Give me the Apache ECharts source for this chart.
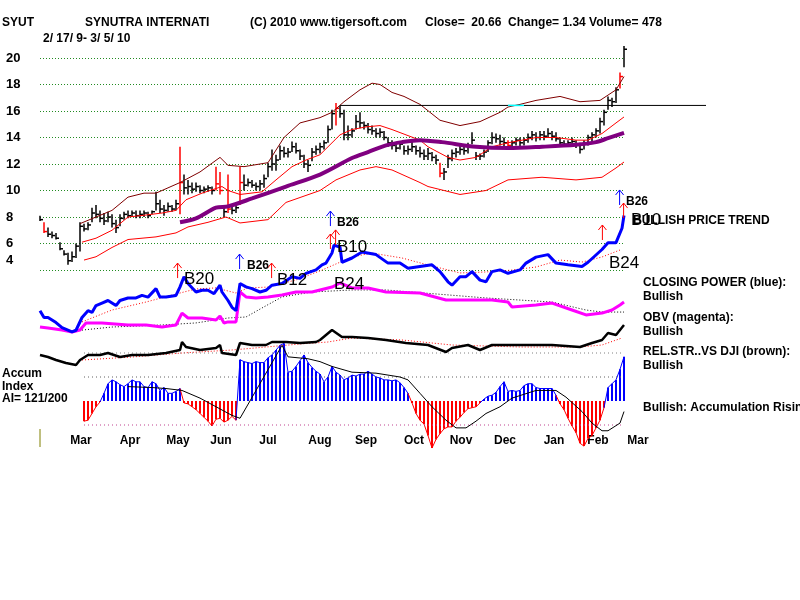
<!DOCTYPE html>
<html>
<head>
<meta charset="utf-8">
<script src="https://cdn.jsdelivr.net/npm/echarts@6/dist/echarts.min.js"></script>
<style>
html, body { margin: 0; background: #fff; }
#main { width: 800px; height: 600px; }
</style>
</head>
<body>
<div id="main"></div>
<script>
// SYUT 2/17/09 - 3/5/10, one bar every ~2 trading days (x = bar number)
const barHigh = [8.1,7.6,7.2,6.9,6.8,6.1,5.5,5.3,5.4,6.0,
  7.6,7.5,7.6,8.7,8.9,8.5,8.3,8.4,8.2,7.8,
  8.2,8.4,8.5,8.5,8.5,8.5,8.5,8.4,8.5,9.9,
  9.3,8.9,9.1,8.9,9.3,13.3,11.2,10.8,10.6,10.6,
  10.4,10.3,10.4,10.3,11.8,11.4,8.9,11.2,8.8,8.9,
  11.8,11.2,10.9,10.8,10.6,10.8,11.2,12.1,13.1,12.7,
  13.4,13.3,13.2,13.7,13.6,13.1,12.7,12.3,13.2,13.4,
  13.6,13.8,14.9,16.1,16.6,16.4,16.1,14.9,14.7,15.7,
  15.9,15.2,15.1,14.9,14.7,14.7,14.5,14.0,13.8,13.6,
  13.7,13.4,13.4,13.7,13.4,13.3,13.1,13.2,12.9,12.7,
  12.1,11.7,12.7,13.1,13.2,13.4,13.3,13.6,14.4,12.9,
  12.8,13.1,13.8,14.4,14.3,14.2,14.0,13.8,13.8,14.0,
  14.0,14.0,14.3,14.5,14.4,14.5,14.5,14.7,14.5,14.4,
  14.0,13.8,13.8,14.0,13.8,13.6,13.8,14.2,14.4,14.7,
  15.5,16.1,17.1,17.0,17.8,18.9,20.9]
const barLow = [7.7,6.8,6.5,6.4,6.3,5.5,5.1,4.4,4.6,4.9,
  5.4,6.9,7.0,7.6,7.9,7.6,7.4,7.6,7.2,6.8,
  7.3,7.8,7.9,8.0,7.9,7.9,8.0,7.9,8.2,8.5,
  8.3,8.1,8.4,8.4,8.5,8.2,9.7,9.7,9.8,9.9,
  9.8,9.8,9.9,9.7,10.0,9.7,8.0,8.3,8.2,8.3,
  8.9,10.0,10.3,10.2,10.0,10.0,10.2,11.0,11.5,11.5,
  12.3,12.5,12.5,12.9,12.8,12.3,11.7,11.4,12.2,12.7,
  12.8,13.1,13.6,14.6,14.9,15.5,13.8,13.8,14.0,14.6,
  14.7,14.6,14.3,14.2,14.0,14.0,13.8,13.3,13.1,12.9,
  13.1,12.7,12.7,12.9,12.7,12.5,12.3,12.3,12.2,12.0,
  11.0,10.8,11.7,12.2,12.5,12.7,12.7,12.8,13.5,12.3,
  12.3,12.5,12.9,13.5,13.6,13.4,13.3,13.1,13.2,13.4,
  13.3,13.4,13.6,13.8,13.7,13.8,13.8,14.0,13.8,13.7,
  13.3,13.3,13.3,13.3,13.2,12.8,13.1,13.4,13.7,14.0,
  14.3,14.9,16.1,16.3,16.6,17.7,19.3]
const barClose = [7.8,6.9,6.7,6.6,6.4,5.6,5.2,4.7,5.0,5.8,
  7.3,7.1,7.4,8.3,8.2,7.9,7.7,8.0,7.5,7.2,
  7.9,8.2,8.1,8.3,8.1,8.2,8.3,8.1,8.4,9.0,
  8.6,8.5,8.8,8.6,9.0,10.6,10.2,10.3,10.1,10.3,
  10.0,10.1,10.2,10.0,10.5,10.0,8.4,8.6,8.5,8.7,
  10.6,10.4,10.6,10.4,10.3,10.5,10.9,11.8,12.0,12.3,
  13.0,12.8,12.9,13.3,13.0,12.6,12.0,11.9,12.9,13.1,
  13.3,13.6,14.6,15.8,16.2,15.8,14.2,14.2,14.5,15.2,
  15.1,14.9,14.6,14.5,14.3,14.4,14.0,13.6,13.4,13.2,
  13.5,13.0,13.1,13.3,13.0,12.8,12.6,12.8,12.5,12.3,
  11.3,11.4,12.4,12.8,12.9,13.1,13.0,13.3,13.8,12.6,
  12.6,12.9,13.6,14.0,13.9,13.7,13.6,13.4,13.6,13.8,
  13.6,13.8,14.0,14.2,14.0,14.2,14.1,14.3,14.1,13.9,
  13.6,13.5,13.6,13.7,13.5,13.1,13.6,14.0,14.2,14.5,
  15.2,15.9,16.8,16.7,17.6,18.6,20.66]
const redBars = [1, 35, 44, 45, 47, 50, 74, 100, 117, 145]

// bands and moving averages: [bar, price]
const upperBand = [[10,7.5],[18,8.5],[22,9.5],[26,9.8],[29,9.8],[35,10.6],[40,11.4],[45,12.5],[47,11.9],[51,11.8],[57,12.1],[61,14.0],[65,15.1],[70,15.5],[73,15.9],[76,16.7],[80,17.6],[83,18.1],[85,18.0],[88,17.4],[91,17.1],[95,16.5],[100,15.3],[105,14.9],[110,15.2],[115,15.9],[117,16.3],[120,16.5],[124,16.8],[130,17.1],[135,16.7],[140,16.8],[144,17.6],[146,18.6]]
const midBand = [[10.5,6.1],[14,6.4],[18,7.0],[22,8.0],[26.5,8.15],[30.5,8.3],[34,8.5],[36.5,9.3],[40.5,9.8],[45.5,10.3],[47,10.0],[50,9.7],[55.5,9.9],[59,10.8],[63,11.8],[66.5,12.3],[70,12.7],[72,13.3],[75,14.2],[78,14.6],[81.5,14.8],[85,14.9],[88,14.6],[91.5,14.2],[95,13.8],[97,13.3],[102,12.5],[105,12.3],[109,12.5],[113,13.3],[117,13.6],[124,14.0],[129,14.0],[134,13.8],[137,13.8],[140.5,14.3],[144,15.1],[146,15.55]]
const lowerBand = [[11,4.75],[14,5.0],[18,5.7],[22,6.3],[29,6.5],[34,6.8],[37,7.25],[42,7.6],[46.5,8.0],[50,7.55],[57,7.8],[61.5,9.1],[70,10.0],[74,10.8],[80,11.55],[84,11.8],[88,11.55],[95,10.6],[97,10.3],[105,9.7],[111.5,10.0],[117,10.8],[125.5,11.0],[134,10.8],[140.5,11.0],[144,11.7],[146,12.15]]
const ma50 = [[35,7.6],[39,7.9],[44,8.7],[47,8.8],[53,9.4],[61.5,10.3],[70,11.2],[78,12.45],[82,12.9],[86.5,13.4],[90.5,13.65],[95,13.8],[100.5,13.65],[109,13.3],[117,13.2],[125.5,13.3],[134,13.45],[139,13.65],[142,13.95],[146,14.35]]
// resistance level: [from bar, to bar, price, colour]
const resistance = [[75, 166.5, 16.42, '#000000'], [117, 121, 16.42, '#00ffff']]

// closing power, OBV (indicator scale 0-100)
const cpLine = [[0,29],[1,25],[2,25],[4,22],[5.5,19],[8,16.5],[9,17.5],[10.5,25],[12,29],[13,28],[14,32],[15.5,33.5],[17,35],[19,32],[20,35],[22,36.5],[24,36.5],[25.5,38],[27,37],[29,42],[30,37],[31.5,37],[34,38],[35,43],[36,49],[37,45],[39,40],[40.5,41],[42,41],[43.5,39],[45,44],[45.5,40],[47,35],[48,31],[49,29],[50,45],[51.5,43],[53,42],[55,40],[56.5,41],[58,44],[60.5,45],[63,49],[65,48],[66.5,51],[69,53],[70.5,56],[71.5,57],[73,63],[73.5,67.5],[75,66.5],[75.5,57.5],[78,60],[80.5,63.5],[84,62],[87,57],[90,57],[92,54],[95,55],[98,56],[100,52],[102,46],[103,44],[105,49],[106.5,49],[108,52],[110,47],[111.5,46],[113,52],[115,53],[117,51],[120,53],[121.5,57],[124,60.5],[127,62],[129,57],[132,56],[135.5,55],[137,57.5],[140.5,65],[142,69],[144,69],[145.5,77.5],[146,85]]
const cpAvg = [[10.5,22.4],[18,29.4],[26.5,34.1],[35,39.4],[39,41.8],[44,42.4],[49,39.4],[52,42.4],[57,42.9],[64,47.1],[70,52.4],[78,60.6],[83,62.9],[90.5,60],[97,55.9],[105,51.2],[111.5,51.8],[118,52.9],[124,54.7],[130,58.8],[135.5,57.6],[140.5,60.6],[145,64.7]]
const obvLine = [[0,19.4],[2,18.8],[5.5,17.6],[8,16.5],[10,17.6],[11.5,21.8],[15.5,21.8],[22,20.6],[26.5,20.6],[30.5,19.4],[34,20.6],[35.5,27.6],[37,24.7],[40.5,24.7],[44,23.5],[45,25.9],[46,21.8],[47,22.4],[49,22.4],[50,40],[51.5,37.1],[54,36.5],[57,37.1],[60.5,38.2],[64,40],[68,40],[73,42.9],[75,45.3],[78,42.4],[82,42.4],[86.5,40],[95,39.4],[101.5,35.3],[107,35.3],[113,35.3],[117,34.1],[118,31.2],[124,32.4],[128,33.5],[133,29.4],[136.5,26.5],[140.5,27.6],[143,29.4],[145,32.4],[146,34.1]]
const obvAvg = [[10.5,17.6],[18,19.4],[30.5,20.6],[39,21.8],[47,24.7],[51.5,25.3],[55.5,30.6],[60.5,37.1],[68,40],[78,41.2],[86.5,41.2],[111.5,36.5],[128,34.1],[136.5,29.4],[140.5,28.2],[146,28.2]]

// relative strength vs DJI (scale 0-100)
const rsLine = [[0,30],[2,26],[4,20],[6.5,14],[9,10],[10,20],[12,30],[15,30],[17,34],[20,26],[23,30],[27,30],[31.5,34],[35,40],[35.5,56],[36.5,46],[40,40],[44,44],[45,50],[45.5,34],[49,30],[50,54],[53,50],[56.5,50],[58,56],[61.5,56],[65,54],[69,56],[70,60],[73,80],[75.5,66],[78,66],[82,64],[86.5,60],[91.5,54],[97,50],[101.5,36],[103,44],[107,50],[110,40],[113,50],[120,50],[128,50],[135,46],[138,54],[140.5,60],[142,74],[144,70],[146,90]]
const rsAvg = [[10.5,20],[23,26],[35.5,34],[48,40],[56.5,46],[65,52],[72,56],[78,64],[90.5,60],[103,50],[120,46],[135,46],[140.5,50],[145.5,64]]

// accumulation index, one value per bar
const accum = [null,null,null,null,null,null,null,null,null,null,
  null,-0.21,-0.20,-0.13,-0.06,-0.01,0.08,0.18,0.22,0.20,
  0.17,0.15,0.18,0.22,0.20,0.20,0.15,0.14,0.20,0.18,
  0.11,0.14,0.08,0.08,0.10,0.13,-0.02,-0.03,-0.06,-0.09,
  -0.13,-0.17,-0.21,-0.26,-0.19,-0.18,-0.22,-0.20,-0.16,-0.20,
  0.43,0.41,0.40,0.39,0.41,0.40,0.40,0.45,0.48,0.53,
  0.58,0.60,0.30,0.31,0.36,0.42,0.48,0.40,0.35,0.31,
  0.28,0.20,0.25,0.36,0.30,0.27,0.22,0.24,0.27,0.26,
  0.28,0.28,0.31,0.28,0.25,0.24,0.22,0.22,0.21,0.22,
  0.19,0.14,0.08,-0.02,-0.13,-0.20,-0.24,-0.36,-0.49,-0.40,
  -0.34,-0.29,-0.27,-0.27,-0.21,-0.17,-0.12,-0.08,-0.07,-0.06,
  -0.02,0.02,0.05,0.06,0.09,0.15,0.20,0.10,0.11,0.10,
  0.11,0.16,0.18,0.18,0.14,0.13,0.13,0.13,0.13,0.06,
  -0.03,-0.09,-0.18,-0.26,-0.33,-0.44,-0.47,-0.39,-0.36,-0.28,
  -0.20,-0.07,0.14,0.18,0.22,0.33,0.46]
const accumAvg = [[22,0.15],[28,0.14],[31.5,0.13],[35.5,0.11],[40,0.03],[44,-0.06],[48,-0.15],[50,-0.18],[60.5,0.58],[62,0.46],[67,0.44],[70,0.41],[73,0.36],[78,0.30],[84,0.29],[90,0.25],[92,0.22],[95,0.08],[98,-0.06],[101.5,-0.20],[104,-0.28],[106.5,-0.28],[109,-0.21],[111.5,-0.13],[115,-0.06],[118,0.03],[124,0.11],[129,0.11],[131.5,0.04],[135.5,-0.11],[138,-0.23],[140.5,-0.31],[142,-0.31],[145,-0.23],[146,-0.11]]
const accumLevels = [0.5, 0.25, -0.25]
const accumLevelText = ['+.50', '+.25', '-.25']
const accumLevelColor = ['#808080', '#606060', '#c0408f']

// buy signals on the closing power scale
const arrowX = [34.4, 49.9, 57.9, 72.6, 72.6, 73.9, 140.6, 144.9, 145.9]
const arrowY = [52.9, 58.2, 52.9, 83.5, 70, 72.4, 75.3, 95.9, 88.2]
const arrowColor = ['#ff0000','#0000ff','#ff0000','#0000ff','#ff0000','#ff0000','#ff0000','#0000ff','#ff0000']
const signalText = ['B20', 'B26', 'B12', 'B26', 'B10', 'B24', 'B24', 'B26', 'B10']
const signalX = [36, 51.75, 59.25, 74.25, 74.25, 73.5, 142.25, 146.5, 147.75]
const signalY = [47.6, 55.3, 47.1, 80.6, 66.5, 44.7, 57.1, 92.9, 82.4]
const signalBig = [true, false, true, false, true, true, true, false, true]

const months = ['Mar','Apr','May','Jun','Jul','Aug','Sep','Oct','Nov','Dec','Jan','Feb','Mar']
const monthPos = [10.25, 22.5, 34.5, 45.25, 57, 70, 81.5, 93.5, 105.25, 116.25, 128.5, 139.5, 149.5]

const FONT = 'Liberation Sans, Arial, sans-serif'

let myChart = echarts.init(document.getElementById('main'))

function hiddenX(gridIndex) {
    return {type: 'value', gridIndex: gridIndex, min: 0, max: 146.25, show: false}
}
function hiddenY(gridIndex, min, max) {
    return {type: 'value', gridIndex: gridIndex, min: min, max: max, show: false}
}
function plainLine(data, color, width, xi, dotted) {
    return {
        type: 'line', xAxisIndex: xi, yAxisIndex: xi, data: data,
        symbol: 'none', silent: true,
        lineStyle: {color: color, width: width, type: dotted ? [1, 2] : 'solid'}
    }
}
function text(str, x, y, size, bold) {
    return {
        type: 'text', x: x, y: y, silent: true,
        style: {text: str, fill: '#000', font: (bold ? 'bold ' : '') + size + 'px ' + FONT, verticalAlign: 'middle'}
    }
}

const accumPoints = accum.map((v, i) => [i, v]).filter(d => d[1] !== null)

const series = [
    plainLine(upperBand, '#800000', 1, 0),
    plainLine(midBand, '#ff0000', 1, 0),
    plainLine(lowerBand, '#ff0000', 1, 0),
    {
        type: 'custom', xAxisIndex: 0, yAxisIndex: 0, clip: false, silent: true, z: 3,
        data: barHigh.map((h, i) => [i, h, barLow[i], barClose[i]]),
        renderItem: function (params, api) {
            const i = api.value(0)
            const hi = api.coord([i, api.value(1)])
            const lo = api.coord([i, api.value(2)])
            const cl = api.coord([i, api.value(3)])
            const col = redBars.indexOf(i) >= 0 ? '#ff0000' : '#000000'
            return {
                type: 'group', children: [
                    {type: 'line', shape: {x1: hi[0], y1: hi[1], x2: lo[0], y2: lo[1]}, style: {stroke: col, lineWidth: 1.5}},
                    {type: 'line', shape: {x1: cl[0], y1: cl[1], x2: cl[0] + 3, y2: cl[1]}, style: {stroke: col, lineWidth: 1.5}}
                ]
            }
        }
    },
    Object.assign(plainLine(ma50, '#800080', 4, 0), {z: 4, smooth: 0.3}),
    {
        type: 'custom', xAxisIndex: 0, yAxisIndex: 0, clip: false, silent: true, z: 4,
        data: resistance.map(r => [r[0], r[1], r[2]]),
        renderItem: function (params, api) {
            const a = api.coord([api.value(0), api.value(2)])
            const b = api.coord([api.value(1), api.value(2)])
            return {
                type: 'line', shape: {x1: a[0], y1: a[1], x2: b[0], y2: b[1]},
                style: {stroke: resistance[params.dataIndex][3], lineWidth: params.dataIndex ? 1.5 : 1}
            }
        }
    },

    plainLine(cpAvg, '#ff0000', 1, 1, true),
    plainLine(obvAvg, '#000000', 1, 1, true),
    Object.assign(plainLine(obvLine, '#ff00ff', 3, 1), {z: 4}),
    Object.assign(plainLine(cpLine, '#0000ff', 3, 1), {z: 5}),

    plainLine(rsAvg, '#ff0000', 1, 2, true),
    Object.assign(plainLine(rsLine, '#000000', 2.5, 2), {z: 4}),

    {
        type: 'bar', xAxisIndex: 3, yAxisIndex: 3, silent: true, barWidth: 2,
        data: accumPoints,
        itemStyle: {color: p => (p.value[1] < 0 ? '#ff0000' : '#0000ff')}
    },
    // outline along the tops of the histogram, coloured by sign
    {
        type: 'custom', xAxisIndex: 3, yAxisIndex: 3, silent: true, z: 3,
        data: accumPoints.slice(1).map((d, k) => [d[0], d[1], accumPoints[k][0], accumPoints[k][1]]),
        renderItem: function (params, api) {
            const a = api.coord([api.value(2), api.value(3)])
            const b = api.coord([api.value(0), api.value(1)])
            return {
                type: 'line', shape: {x1: a[0], y1: a[1], x2: b[0], y2: b[1]},
                style: {stroke: api.value(1) < 0 ? '#ff0000' : '#0000ff', lineWidth: 1}
            }
        }
    },
    Object.assign(plainLine(accumAvg, '#000000', 1, 3), {z: 4})
]

// dotted accumulation levels with their labels at the left end
accumLevels.forEach(function (lv, k) {
    series.push({
        type: 'line', xAxisIndex: 3, yAxisIndex: 3, symbol: 'none', silent: true,
        lineStyle: {color: accumLevelColor[k], type: [1, 3], width: 1},
        data: [
            {value: [11, lv], label: {show: true, position: 'left', distance: 6, formatter: accumLevelText[k],
                color: '#000', fontWeight: 'bold', fontSize: 12, fontFamily: FONT}},
            {value: [146, lv]}
        ]
    })
})

// buy-signal arrows and labels
series.push({
    type: 'custom', xAxisIndex: 1, yAxisIndex: 1, clip: false, silent: true, z: 7,
    data: arrowX.map((x, k) => [x, arrowY[k], k]),
    renderItem: function (params, api) {
        const k = api.value(2)
        const c = api.coord([api.value(0), api.value(1)])
        const col = arrowColor[k]
        return {
            type: 'group', children: [
                {type: 'line', shape: {x1: c[0], y1: c[1] - 7, x2: c[0], y2: c[1] + 8}, style: {stroke: col, lineWidth: 1}},
                {type: 'polyline', shape: {points: [[c[0] - 4, c[1] - 2], [c[0], c[1] - 7], [c[0] + 4, c[1] - 2]]},
                 style: {stroke: col, fill: null, lineWidth: 1}}
            ]
        }
    }
})
series.push({
    type: 'custom', xAxisIndex: 1, yAxisIndex: 1, clip: false, silent: true, z: 8,
    data: signalX.map((x, k) => [x, signalY[k], k]),
    renderItem: function (params, api) {
        const k = api.value(2)
        const c = api.coord([api.value(0), api.value(1)])
        return {
            type: 'text', x: c[0], y: c[1],
            style: {
                text: signalText[k], fill: '#000', verticalAlign: 'middle',
                font: (signalBig[k] ? 'normal 17px ' : 'bold 12px ') + FONT
            }
        }
    }
})

myChart.setOption({
    animation: false,
    backgroundColor: '#ffffff',
    textStyle: {fontFamily: FONT},
    grid: [
        {left: 40, right: 175, top: 58, height: 212},
        {left: 40, right: 175, top: 190, height: 170},
        {left: 40, right: 175, top: 320, height: 50},
        {left: 40, right: 175, top: 329, height: 144},
        {left: 40, right: 152, top: 400, height: 31}
    ],
    xAxis: [
        hiddenX(0), hiddenX(1), hiddenX(2), hiddenX(3),
        {
            type: 'value', gridIndex: 4, min: 0, max: 152,
            axisLine: {show: false}, axisTick: {show: false}, splitLine: {show: false},
            axisLabel: {
                customValues: monthPos, margin: 4,
                formatter: v => months[monthPos.indexOf(v)] || '',
                color: '#000', fontWeight: 'bold', fontSize: 12, fontFamily: FONT
            }
        }
    ],
    yAxis: [
        {
            type: 'value', gridIndex: 0, min: 4, max: 20, interval: 2,
            axisLine: {show: false}, axisTick: {show: false},
            axisLabel: {
                align: 'left', margin: 34, color: '#000', fontWeight: 'bold', fontSize: 13, fontFamily: FONT,
                formatter: v => (v === 4 ? '{low|4}' : String(v)),
                rich: {low: {padding: [0, 0, 19, 0], fontWeight: 'bold', fontSize: 13, fontFamily: FONT, color: '#000'}}
            },
            splitLine: {lineStyle: {color: '#228b22', type: [1, 2], width: 1}}
        },
        hiddenY(1, 0, 100),
        hiddenY(2, 0, 100),
        hiddenY(3, -0.75, 0.75),
        hiddenY(4, 0, 1)
    ],
    series: series,
    graphic: [
        text('SYUT', 2, 23, 12, true),
        text('SYNUTRA INTERNATI', 85, 23, 12, true),
        text('(C) 2010 www.tigersoft.com', 250, 23, 12, true),
        text('Close=  20.66  Change= 1.34 Volume= 478', 425, 23, 12, true),
        text('2/ 17/ 9- 3/ 5/ 10', 43, 39, 12, true),
        text('BULLISH PRICE TREND', 633, 221, 12, true),
        text('CLOSING POWER (blue):', 643, 283, 12, true),
        text('Bullish', 643, 297, 12, true),
        text('OBV (magenta):', 643, 318, 12, true),
        text('Bullish', 643, 332, 12, true),
        text('REL.STR..VS DJI (brown):', 643, 352, 12, true),
        text('Bullish', 643, 366, 12, true),
        text('Bullish: Accumulation Rising', 643, 408, 12, true),
        text('Accum', 2, 374, 12, true),
        text('Index', 2, 387, 12, true),
        text('AI= 121/200', 2, 399, 12, true),
        {type: 'line', silent: true, shape: {x1: 40, y1: 429, x2: 40, y2: 447}, style: {stroke: '#808000', lineWidth: 1}}
    ]
})
</script>
</body>
</html>
